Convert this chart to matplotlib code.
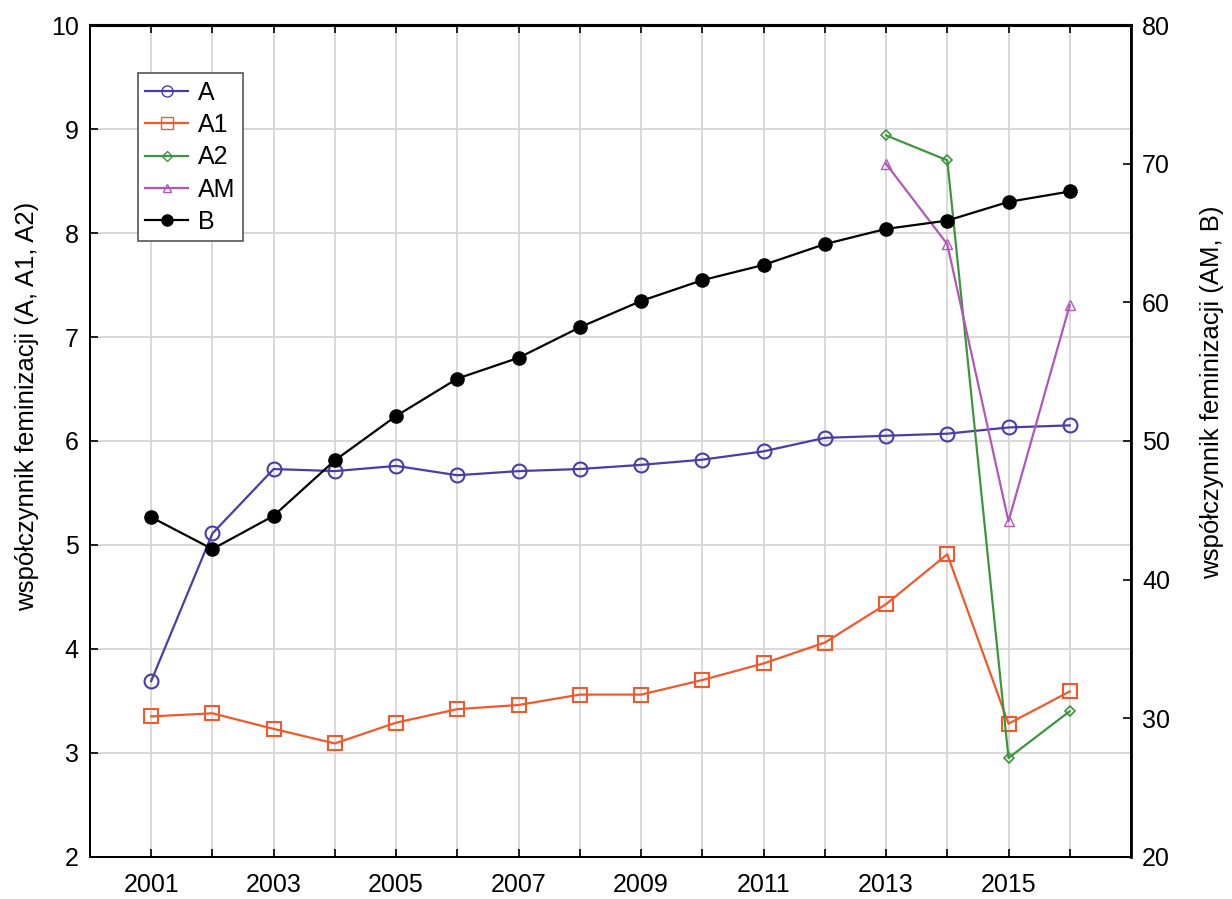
import matplotlib
matplotlib.use("Agg")
import matplotlib.pyplot as plt
from matplotlib.lines import Line2D

plt.rcParams['font.family'] = ['Liberation Sans', 'DejaVu Sans']

# data
years = list(range(2001, 2017))
a_vals = [3.69, 5.11, 5.73, 5.71, 5.76, 5.67, 5.71, 5.73, 5.77, 5.82, 5.90,
          6.03, 6.05, 6.07, 6.13, 6.15]
a1_vals = [3.35, 3.38, 3.23, 3.09, 3.29, 3.42, 3.46, 3.56, 3.56, 3.70, 3.86,
           4.06, 4.43, 4.91, 3.28, 3.59]
a2_years = [2013, 2014, 2015, 2016]
a2_vals = [8.94, 8.70, 2.95, 3.40]
am_years = [2013, 2014, 2015, 2016]
am_vals = [70.0, 64.2, 44.2, 59.8]
b_vals = [44.5, 42.2, 44.6, 48.6, 51.8, 54.5, 56.0, 58.2, 60.1, 61.6, 62.7,
          64.2, 65.3, 65.9, 67.25, 68.0]

tick_labels = [str(y) if y % 2 == 1 else '' for y in years]

col_a = '#4b3ca6'
col_a1 = '#f2592a'
col_a2 = '#3c963c'
col_am = '#b057b8'
col_b = '#000000'

fig = plt.figure(figsize=(12.32, 8.99), dpi=100)
ax = fig.add_axes([0.073, 0.047, 0.845, 0.925])
ax2 = ax.twinx()

ax.plot(years, a_vals, color=col_a, lw=1.6, marker='o', ms=10,
        mfc='none', mec=col_a, mew=1.5, label='A')
ax.plot(years, a1_vals, color=col_a1, lw=1.6, marker='s', ms=9.5,
        mfc='none', mec=col_a1, mew=1.5, label='A1')
ax.plot(a2_years, a2_vals, color=col_a2, lw=1.6, marker='D', ms=5.5,
        mfc='none', mec=col_a2, mew=1.2, label='A2')
ax2.plot(am_years, am_vals, color=col_am, lw=1.6, marker='^', ms=7.5,
         mfc='none', mec=col_am, mew=1.0, label='AM')
ax2.plot(years, b_vals, color=col_b, lw=1.6, marker='o', ms=9.5,
         mfc=col_b, mec=col_b, label='B')

ax.set_xlim(2000, 2017)
ax.set_ylim(2, 10)
ax2.set_ylim(20, 80)
ax.set_xticks(years)
ax.set_xticklabels(tick_labels)
ax.set_yticks(range(2, 11))
ax2.set_yticks(range(20, 81, 10))

ax.grid(True, color='#d6d6d6', lw=1.3)
ax.set_axisbelow(True)

for a in (ax, ax2):
    a.tick_params(direction='in', length=6, width=1.2, labelsize=18, pad=8)
    for s in a.spines.values():
        s.set_linewidth(1.3)
ax.tick_params(axis='x', top=True, pad=12)
ax.spines['top'].set_linewidth(2.2)
ax2.spines['top'].set_linewidth(2.2)
ax2.spines['right'].set_linewidth(2.0)

ax.set_ylabel('współczynnik feminizacji (A, A1, A2)', fontsize=18.5)
ax2.set_ylabel('współczynnik feminizacji (AM, B)', fontsize=18.5)
ax.yaxis.set_label_coords(-0.049, 0.542)
ax2.yaxis.set_label_coords(1.066, 0.559)

handles = [
    Line2D([], [], color=col_a, lw=1.6, marker='o', ms=8, mfc='none', mec=col_a),
    Line2D([], [], color=col_a1, lw=1.6, marker='s', ms=8, mfc='none', mec=col_a1),
    Line2D([], [], color=col_a2, lw=1.6, marker='D', ms=5, mfc='none', mec=col_a2),
    Line2D([], [], color=col_am, lw=1.6, marker='^', ms=6, mfc='none', mec=col_am),
    Line2D([], [], color=col_b, lw=1.6, marker='o', ms=8, mfc=col_b, mec=col_b),
]
leg = ax2.legend(handles, ['A', 'A1', 'A2', 'AM', 'B'], loc='upper left',
                 bbox_to_anchor=(0.046, 0.942), fontsize=18, frameon=True,
                 fancybox=False, edgecolor='#555555', framealpha=1,
                 handlelength=1.7, handletextpad=0.4, labelspacing=0.33,
                 borderpad=0.3, borderaxespad=0)
leg.get_frame().set_linewidth(1.2)

fig.savefig('out.png', dpi=100)
